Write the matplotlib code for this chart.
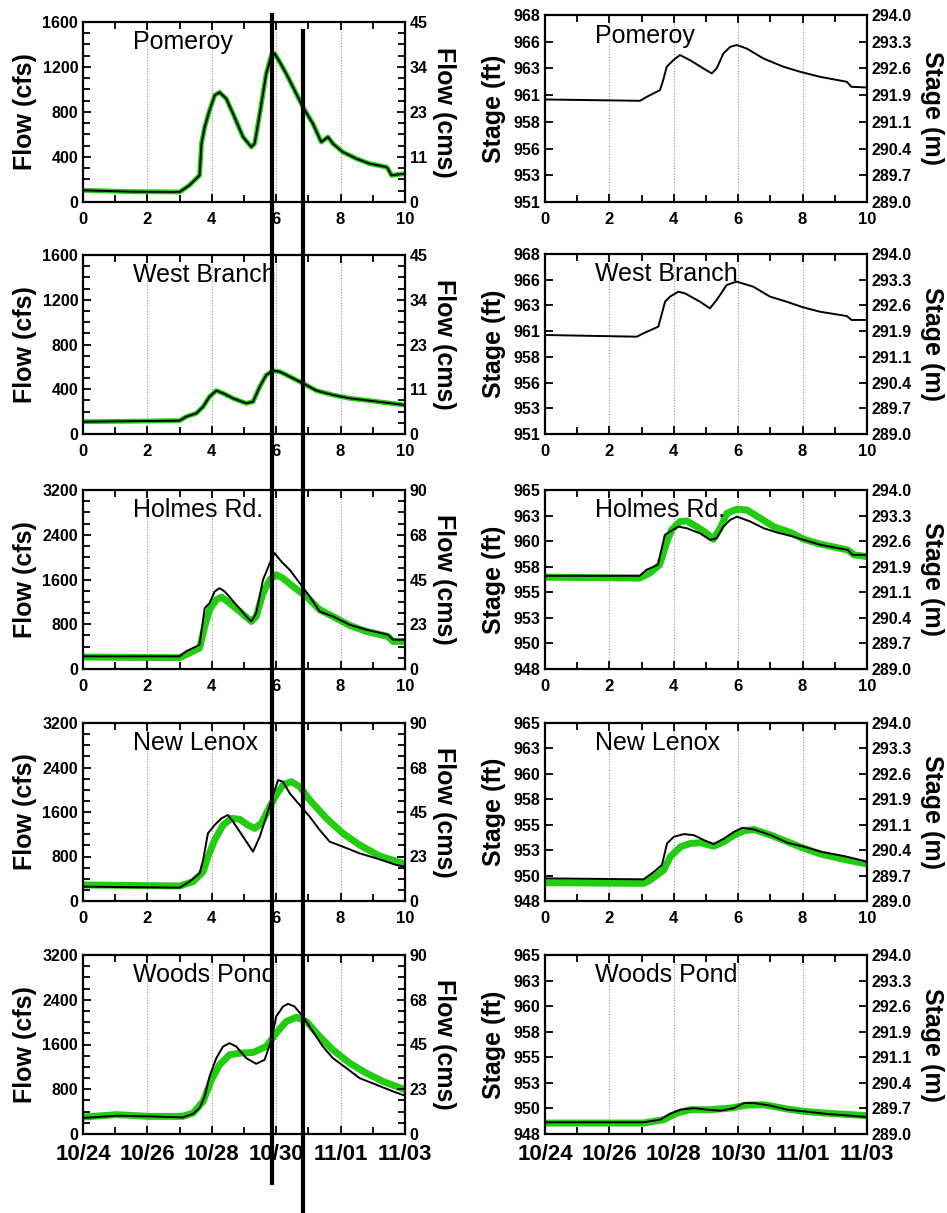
import numpy as np
import matplotlib
matplotlib.use("Agg")
import matplotlib.pyplot as plt
from matplotlib.lines import Line2D
from matplotlib.ticker import MultipleLocator

plt.rcParams['font.family'] = ['Liberation Sans', 'DejaVu Sans']

GREEN = '#22cc11'

# x axis: days since 10/24
day_ticks = [0, 2, 4, 6, 8, 10]
date_labels = ['10/24', '10/26', '10/28', '10/30', '11/01', '11/03']

# ---- Pomeroy ----
pom_q_t = [0, 1.5, 3.0, 3.3, 3.62, 3.68, 3.78, 3.93, 4.09, 4.24, 4.45, 4.66, 4.97, 5.23, 5.33,
           5.49, 5.69, 5.85, 5.95, 6.11, 6.31, 6.52, 6.83, 7.14, 7.35, 7.4, 7.61, 7.76, 8.07,
           8.49, 8.9, 9.42, 9.47, 9.58, 10]
pom_q = [104, 92, 89, 148, 237, 519, 667, 815, 948, 975, 918, 785, 578, 489, 519,
         785, 1141, 1304, 1319, 1244, 1141, 1022, 844, 696, 563, 533, 578, 519, 444,
         385, 341, 311, 296, 237, 252]
pom_h_t = [0, 2.95, 3.16, 3.57, 3.67, 3.78, 3.99, 4.19, 4.5, 4.92, 5.18, 5.33, 5.54, 5.75,
           5.95, 6.26, 6.78, 7.4, 7.92, 8.54, 9.37, 9.52, 10]
pom_h = [960.32, 960.2, 960.56, 961.17, 962.08, 963.3, 963.9, 964.36, 963.9, 963.14, 962.69,
         963.14, 964.5, 965.1, 965.27, 964.96, 964.05, 963.3, 962.84, 962.38, 961.93, 961.47,
         961.41]

# ---- West Branch ----
wb_q_t = [0, 3.0, 3.21, 3.52, 3.73, 3.93, 4.14, 4.35, 4.66, 5.07, 5.28, 5.49, 5.69, 5.9,
          6.11, 6.42, 6.83, 7.25, 7.76, 8.28, 8.9, 10]
wb_q = [110, 119, 155, 185, 244, 334, 388, 364, 319, 274, 289, 423, 527, 566,
        557, 513, 453, 388, 349, 319, 298, 259]
wb_h_t = [0, 2.85, 3.05, 3.52, 3.73, 3.88, 4.14, 4.35, 4.81, 5.12, 5.33, 5.64, 5.95, 6.47,
          6.99, 7.5, 8.02, 8.54, 9.37, 9.52, 10]
wb_h = [960.35, 960.19, 960.5, 961.14, 963.5, 963.97, 964.44, 964.28, 963.5, 962.87, 963.65,
        965.07, 965.39, 964.91, 963.97, 963.5, 962.96, 962.55, 962.14, 961.77, 961.77]

# ---- Holmes Rd. ----
hr_qo_t = [0, 3.0, 3.2, 3.52, 3.62, 3.78, 3.93, 4.09, 4.24, 4.4, 4.76, 5.07, 5.23, 5.38,
           5.59, 5.8, 5.95, 6.16, 6.42, 6.73, 7.04, 7.35, 7.76, 8.28, 8.8, 9.47, 9.63, 10]
hr_qo = [226, 226, 315, 404, 434, 1088, 1178, 1386, 1445, 1386, 1148, 940, 850, 999,
         1594, 1891, 2070, 1921, 1772, 1535, 1297, 1029, 940, 791, 702, 613, 523, 523]
hr_qs_t = [0, 3.0, 3.31, 3.62, 3.78, 3.93, 4.14, 4.3, 4.55, 4.87, 5.23, 5.38, 5.59, 5.8,
           6.0, 6.21, 6.52, 6.94, 7.35, 7.76, 8.28, 8.8, 9.47, 9.63, 10]
hr_qs = [214, 202, 286, 375, 761, 1059, 1237, 1285, 1178, 1029, 850, 940, 1356, 1594,
         1683, 1624, 1475, 1297, 1059, 940, 779, 672, 583, 494, 494]
hr_ho_t = [0, 2.94, 3.15, 3.51, 3.72, 3.88, 4.14, 4.4, 4.81, 5.13, 5.33, 5.54, 5.75, 5.96,
           6.38, 6.79, 7.21, 7.63, 8.04, 8.56, 9.4, 9.55, 10]
hr_ho = [956.85, 956.85, 957.42, 957.89, 960.73, 961.05, 961.52, 961.37, 960.89, 960.26,
         960.42, 961.52, 962.16, 962.47, 962.0, 961.37, 960.96, 960.64, 960.26, 959.79,
         959.31, 958.84, 958.84]
hr_hs_t = [0, 2.94, 3.25, 3.56, 3.77, 3.93, 4.19, 4.4, 4.71, 5.02, 5.23, 5.44, 5.65, 5.96,
           6.27, 6.69, 7.1, 7.63, 8.04, 8.56, 9.4, 9.6, 10]
hr_hs = [956.72, 956.63, 957.1, 957.89, 959.94, 961.21, 962.0, 962.06, 961.52, 960.89,
         960.32, 961.37, 962.79, 963.17, 963.1, 962.31, 961.52, 960.96, 960.32, 959.85,
         959.31, 958.84, 958.68]

# ---- New Lenox ----
nl_qo_t = [0, 3.0, 3.31, 3.62, 3.73, 3.88, 4.09, 4.3, 4.5, 4.66, 4.97, 5.28, 5.49, 5.69,
           5.85, 6.06, 6.21, 6.42, 6.73, 7.04, 7.35, 7.66, 8.07, 8.59, 9.21, 9.73, 10]
nl_qo = [258, 240, 348, 497, 737, 1217, 1366, 1486, 1546, 1426, 1157, 887, 1157, 1516,
         1816, 2175, 2145, 1936, 1726, 1516, 1277, 1067, 977, 857, 749, 647, 617]
nl_qs_t = [0, 3.0, 3.42, 3.73, 3.88, 4.09, 4.35, 4.61, 4.87, 5.12, 5.33, 5.54, 5.8, 6.0,
           6.21, 6.47, 6.73, 7.04, 7.56, 8.07, 8.59, 9.21, 10]
nl_qs = [288, 270, 348, 527, 797, 1097, 1366, 1486, 1468, 1366, 1306, 1396, 1696, 1906,
         2086, 2145, 2056, 1816, 1486, 1217, 1007, 809, 665]
nl_ho_t = [0, 3.06, 3.32, 3.63, 3.79, 4.0, 4.31, 4.62, 4.93, 5.24, 5.56, 5.87, 6.13, 6.49,
           7.01, 7.53, 8.05, 8.57, 9.29, 10]
nl_ho = [950.16, 950.07, 950.64, 951.43, 953.5, 954.13, 954.39, 954.29, 953.82, 953.43,
         953.97, 954.61, 954.99, 954.83, 954.29, 953.56, 953.18, 952.7, 952.29, 951.75]
nl_hs_t = [0, 3.06, 3.27, 3.69, 3.89, 4.21, 4.52, 4.83, 5.24, 5.56, 5.87, 6.18, 6.49, 7.01,
           7.53, 8.05, 8.57, 9.29, 10]
nl_hs = [949.75, 949.68, 950.0, 950.96, 952.23, 953.18, 953.5, 953.56, 953.24, 953.66,
         954.29, 954.71, 954.83, 954.29, 953.66, 953.02, 952.48, 951.97, 951.53]

# ---- Woods Pond ----
wp_qo_t = [0, 1.04, 2.07, 3.1, 3.42, 3.62, 3.78, 3.93, 4.14, 4.35, 4.55, 4.76, 5.07, 5.38,
           5.64, 5.85, 6.0, 6.21, 6.37, 6.57, 6.83, 7.14, 7.45, 7.76, 8.18, 8.59, 9.11,
           9.63, 10]
wp_qo = [286, 327, 315, 297, 363, 464, 672, 1029, 1356, 1564, 1624, 1564, 1356, 1255,
         1326, 1683, 2100, 2278, 2326, 2278, 2100, 1832, 1564, 1356, 1178, 999, 880, 761, 684]
wp_qs_t = [0, 1.04, 2.07, 3.1, 3.42, 3.73, 3.99, 4.24, 4.55, 4.87, 5.28, 5.69, 6.0, 6.31,
           6.63, 6.94, 7.35, 7.76, 8.28, 8.8, 9.32, 10]
wp_qs = [303, 345, 315, 315, 375, 583, 970, 1237, 1416, 1445, 1457, 1564, 1802, 2010,
         2088, 2010, 1743, 1505, 1267, 1088, 940, 791]
wp_ho_t = [0, 3.06, 3.58, 3.89, 4.21, 4.62, 5.04, 5.45, 5.87, 6.18, 6.49, 7.01, 7.53, 8.05,
           8.67, 10]
wp_ho = [949.11, 949.11, 949.36, 949.93, 950.31, 950.46, 950.31, 950.21, 950.46, 950.94,
         950.94, 950.69, 950.31, 950.15, 949.93, 949.61]
wp_hs_t = [0, 3.06, 3.69, 4.1, 4.52, 5.14, 5.76, 6.28, 6.8, 7.53, 8.05, 8.67, 10]
wp_hs = [949.04, 949.04, 949.36, 949.99, 950.31, 950.31, 950.46, 950.75, 950.78, 950.37,
         950.15, 949.99, 949.74]

W, H = 947, 1213
fig = plt.figure(figsize=(W / 100, H / 100), dpi=100)

# panel boxes in pixels: (top, bottom) for left and right column
rows_px = [((22, 202), (15, 202)),
           ((255, 434), (254, 434)),
           ((490, 669), (490, 669)),
           ((723, 901), (723, 901)),
           ((955, 1134), (955, 1134))]
LX = (83, 405)
RX = (545, 867)


def make_ax(xr, yr):
    return fig.add_axes([xr[0] / W, 1 - yr[1] / H, (xr[1] - xr[0]) / W, (yr[1] - yr[0]) / H])


def style(ax, title, bottom):
    ax.set_xlim(0, 10)
    ax.set_xticks(day_ticks)
    ax.xaxis.set_minor_locator(MultipleLocator(1))
    if bottom:
        ax.set_xticklabels(date_labels, fontsize=16, fontweight='bold')
    else:
        ax.set_xticklabels([str(d) for d in day_ticks], fontsize=12, fontweight='bold')
    for d in [2, 4, 6, 8]:
        ax.axvline(d, color='#999999', lw=0.8, ls=(0, (1, 1.5)), zorder=0)
    ax.tick_params(which='both', direction='in', top=True, width=1.3)
    ax.tick_params(which='major', length=6)
    ax.tick_params(which='minor', length=5)
    ax.tick_params(axis='x', pad=7)
    for s in ax.spines.values():
        s.set_linewidth(1.6)
    ax.text(0.155, 0.89, title, transform=ax.transAxes, fontsize=18,
            ha='left', va='center', zorder=5)


def flow_panel(ax, title, qmax, minor, series, bottom, lw_g):
    for t, q, kind in series:
        if kind == 'sim':
            ax.plot(t, q, color=GREEN, lw=lw_g, solid_capstyle='round', zorder=2)
        else:
            ax.plot(t, q, color='black', lw=1.4, zorder=3)
    ax.set_ylim(0, qmax)
    yt = np.linspace(0, qmax, 5)
    ax.set_yticks(yt)
    ax.set_yticklabels([f'{v:.0f}' for v in yt], fontsize=11.5, fontweight='bold')
    ax.yaxis.set_minor_locator(MultipleLocator(minor))
    style(ax, title, bottom)
    ax.set_ylabel('Flow (cfs)', fontsize=18, fontweight='bold', va='center', ha='center')
    ax.yaxis.set_label_coords(-0.18, 0.5)
    ax2 = ax.twinx()
    ax2.set_ylim(ax.get_ylim())
    ax2.set_yticks(yt)
    cms = qmax * 0.028125
    ax2.set_yticklabels([f'{int(np.floor(v + 0.5))}' for v in np.linspace(0, cms, 5)],
                        fontsize=11.5, fontweight='bold')
    ax2.yaxis.set_minor_locator(MultipleLocator(minor))
    ax2.tick_params(which='both', direction='in', width=1.3)
    ax2.tick_params(which='major', length=6)
    ax2.tick_params(which='minor', length=5)
    ax2.set_ylabel('Flow (cms)', fontsize=18, fontweight='bold', rotation=270,
                   va='center', ha='center')
    ax2.yaxis.set_label_coords(1.121, 0.5)
    for s in ax2.spines.values():
        s.set_visible(False)


def stage_panel(ax, title, hmin, hmax, series, bottom):
    for t, h, kind in series:
        if kind == 'sim':
            ax.plot(t, h, color=GREEN, lw=5, solid_capstyle='round', zorder=2)
        else:
            ax.plot(t, h, color='black', lw=1.4, zorder=3)
    ax.set_ylim(hmin, hmax)
    yt = np.linspace(hmin, hmax, 8)
    ax.set_yticks(yt)
    ax.set_yticklabels([f'{int(np.floor(v + 0.5))}' for v in yt], fontsize=11.5,
                       fontweight='bold')
    style(ax, title, bottom)
    ax.set_ylabel('Stage (ft)', fontsize=18, fontweight='bold', va='center', ha='center')
    ax.yaxis.set_label_coords(-0.158, 0.5)
    ax2 = ax.twinx()
    ax2.set_ylim(ax.get_ylim())
    ax2.set_yticks(yt)
    ax2.set_yticklabels([f'{v:.1f}' for v in np.linspace(289.0, 294.0, 8)],
                        fontsize=11.5, fontweight='bold')
    ax2.tick_params(which='both', direction='in', width=1.3, length=6)
    ax2.set_ylabel('Stage (m)', fontsize=18, fontweight='bold', rotation=270,
                   va='center', ha='center')
    ax2.yaxis.set_label_coords(1.202, 0.5)
    for s in ax2.spines.values():
        s.set_visible(False)


titles = ['Pomeroy', 'West Branch', 'Holmes Rd.', 'New Lenox', 'Woods Pond']
flow_series = [
    [(pom_q_t, pom_q, 'sim'), (pom_q_t, pom_q, 'obs')],
    [(wb_q_t, wb_q, 'sim'), (wb_q_t, wb_q, 'obs')],
    [(hr_qs_t, hr_qs, 'sim'), (hr_qo_t, hr_qo, 'obs')],
    [(nl_qs_t, nl_qs, 'sim'), (nl_qo_t, nl_qo, 'obs')],
    [(wp_qs_t, wp_qs, 'sim'), (wp_qo_t, wp_qo, 'obs')],
]
stage_series = [
    [(pom_h_t, pom_h, 'obs')],
    [(wb_h_t, wb_h, 'obs')],
    [(hr_hs_t, hr_hs, 'sim'), (hr_ho_t, hr_ho, 'obs')],
    [(nl_hs_t, nl_hs, 'sim'), (nl_ho_t, nl_ho, 'obs')],
    [(wp_hs_t, wp_hs, 'sim'), (wp_ho_t, wp_ho, 'obs')],
]
qmaxes = [1600, 1600, 3200, 3200, 3200]
minors = [100, 100, 200, 200, 200]
stage_ranges = [(951, 968), (951, 968), (948, 965), (948, 965), (948, 965)]

for i in range(5):
    (lt, rt) = rows_px[i]
    bottom = (i == 4)
    axl = make_ax(LX, lt)
    flow_panel(axl, titles[i], qmaxes[i], minors[i], flow_series[i], bottom,
               3.5 if i < 2 else 5)
    axr = make_ax(RX, rt)
    stage_panel(axr, titles[i], stage_ranges[i][0], stage_ranges[i][1],
                stage_series[i], bottom)

# two vertical marker lines drawn over the left column
fig.add_artist(Line2D([272 / W, 272 / W], [1 - 15 / H, 1 - 1183 / H], color='black', lw=3))
fig.add_artist(Line2D([303 / W, 303 / W], [1 - 31 / H, 1 - 1213 / H], color='black', lw=3))

fig.savefig('out.png', dpi=100)
